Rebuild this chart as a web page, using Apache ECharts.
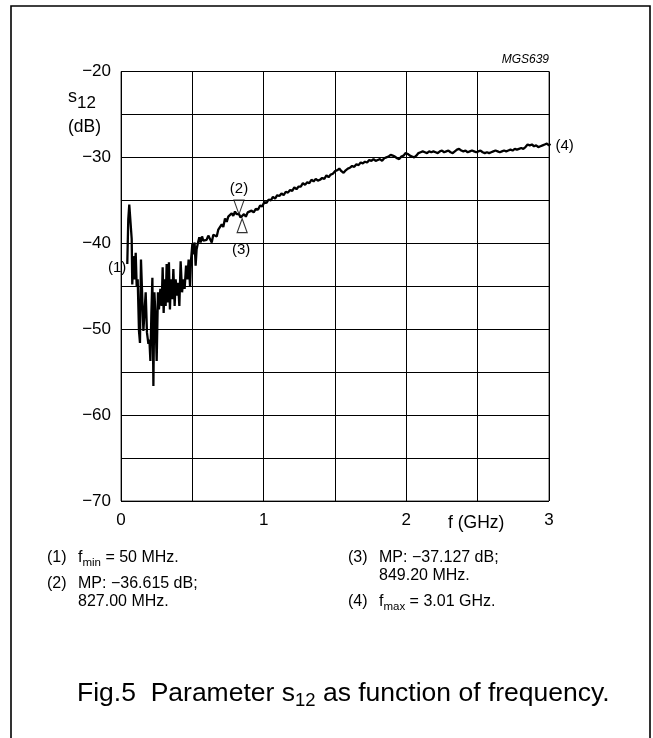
<!DOCTYPE html>
<html>
<head>
<meta charset="utf-8">
<script src="https://cdn.jsdelivr.net/npm/echarts@6/dist/echarts.min.js"></script>
<style>
html,body{margin:0;padding:0;background:#fff;}
#c{width:653px;height:738px;}
</style>
</head>
<body>
<div id="c"></div>
<script>
// ---- data (frequency in GHz, s12 in dB) ----
const freq = [
0.044,0.051,0.058,0.070,0.075,0.079,0.086,0.096,0.103,0.110,0.117,0.126,0.133,0.140,0.147,0.157,0.166,0.173,0.182,0.192,
0.199,0.206,0.213,0.220,0.227,0.234,0.241,0.250,0.259,0.266,0.276,0.285,0.292,0.299,0.306,0.313,0.320,0.329,0.336,0.343,
0.350,0.360,0.367,0.376,0.383,0.393,0.400,0.409,0.418,0.428,0.437,0.446,0.456,0.465,0.474,0.484,0.491,0.500,0.509,0.516,
0.523,0.530,0.540,0.549,0.558,0.568,0.577,0.589,0.600,0.612,0.624,0.636,0.647,0.659,0.671,0.682,0.694,0.706,0.717,0.729,
0.741,0.752,0.764,0.776,0.787,0.799,0.811,0.827,0.838,0.849,0.862,0.875,0.888,0.900,0.915,0.930,0.945,0.960,0.975,0.990,
1.005,1.020,1.035,1.050,1.065,1.080,1.095,1.110,1.125,1.140,1.155,1.170,1.185,1.200,1.215,1.230,1.245,1.260,1.275,1.290,
1.305,1.320,1.335,1.350,1.365,1.380,1.395,1.410,1.425,1.440,1.455,1.470,1.485,1.500,1.515,1.530,1.545,1.560,1.575,1.590,
1.605,1.620,1.635,1.650,1.665,1.680,1.695,1.710,1.725,1.740,1.755,1.770,1.785,1.800,1.815,1.830,1.845,1.860,1.875,1.890,
1.905,1.920,1.935,1.950,1.965,1.980,1.995,2.010,2.025,2.040,2.055,2.070,2.085,2.100,2.115,2.130,2.145,2.160,2.175,2.190,
2.205,2.220,2.235,2.250,2.265,2.280,2.295,2.310,2.325,2.340,2.355,2.370,2.385,2.400,2.415,2.430,2.445,2.460,2.475,2.490,
2.505,2.520,2.535,2.550,2.565,2.580,2.595,2.610,2.625,2.640,2.655,2.670,2.685,2.700,2.715,2.730,2.745,2.760,2.775,2.790,
2.805,2.820,2.835,2.850,2.865,2.880,2.895,2.910,2.925,2.940,2.955,2.970,2.985,3.000,3.010
];
const s12 = [
-42.4,-37.2,-35.5,-35.3,-39.5,-44.8,-41.5,-44.2,-41.1,-45.0,-44.2,-50.2,-51.6,-41.9,-41.7,-50.2,-50.4,-45.7,-50.4,-51.7,
-51.2,-53.7,-48.1,-44.0,-56.6,-45.7,-48.1,-53.7,-45.7,-47.7,-45.3,-47.3,-42.8,-48.1,-44.2,-47.3,-42.4,-46.9,-42.2,-47.7,
-44.2,-46.5,-43.0,-47.3,-44.2,-46.1,-44.6,-47.3,-42.1,-45.7,-44.2,-45.3,-42.6,-44.2,-41.9,-45.0,-41.9,-40.1,-41.3,-39.9,
-42.6,-40.7,-39.9,-39.3,-39.9,-39.2,-39.7,-39.5,-39.6,-39.1,-39.5,-39.9,-39.0,-38.8,-39.2,-38.4,-38.6,-37.8,-38.1,-37.1,
-37.5,-36.9,-37.1,-36.5,-36.8,-36.3,-36.6,-36.6,-37.0,-37.1,-36.6,-36.9,-36.4,-36.6,-36.2,-36.4,-36.0,-36.1,-35.6,-35.7,
-35.2,-35.3,-34.9,-35.0,-34.6,-34.8,-34.4,-34.5,-34.2,-34.4,-34.0,-34.1,-33.8,-33.9,-33.5,-33.7,-33.4,-33.4,-33.0,-33.2,
-32.9,-33.0,-32.6,-32.8,-32.5,-32.7,-32.6,-32.4,-32.5,-32.1,-32.3,-32.0,-31.9,-31.6,-31.5,-31.3,-31.6,-31.8,-31.5,-31.3,
-31.2,-31.0,-31.1,-30.8,-30.9,-30.6,-30.7,-30.5,-30.6,-30.3,-30.4,-30.2,-30.4,-30.3,-30.2,-30.4,-30.1,-30.0,-29.9,-29.7,
-29.8,-29.9,-30.1,-30.2,-29.9,-29.8,-29.5,-29.6,-29.8,-29.9,-30.0,-29.8,-29.5,-29.4,-29.3,-29.4,-29.5,-29.3,-29.4,-29.3,
-29.4,-29.5,-29.3,-29.2,-29.4,-29.3,-29.2,-29.4,-29.5,-29.3,-29.1,-29.0,-29.2,-29.3,-29.2,-29.4,-29.3,-29.2,-29.3,-29.4,
-29.3,-29.2,-29.4,-29.5,-29.4,-29.5,-29.4,-29.3,-29.2,-29.3,-29.4,-29.3,-29.2,-29.3,-29.2,-29.1,-29.2,-29.0,-29.1,-29.0,
-28.9,-29.0,-28.8,-28.5,-28.6,-28.5,-28.7,-28.6,-28.8,-28.7,-28.6,-28.5,-28.4,-28.6,-28.4
];
// marker points: [GHz, dB]
const marker2 = [0.827, -36.615];
const marker3 = [0.8492, -37.127];
const fminPoint = [0.044, -42.4];
const fmaxPoint = [3.010, -28.4];
const xTickLabels = {0:'0', 1:'1', 2:'2', 3:'3'};
const yTickLabels = {'-20':'\u221220','-30':'\u221230','-40':'\u221240','-50':'\u221250','-60':'\u221260','-70':'\u221270'};

const FONT = '"Liberation Sans", Arial, sans-serif';
const chart = echarts.init(document.getElementById('c'), null, {renderer:'canvas'});

const ctx = document.createElement('canvas').getContext('2d');
function txt(x, y, t, size, align, extra) {
  const f = (extra || '') + size + 'px ' + FONT;
  return {type:'text', x: x, y: y, silent:true, z:10,
    style:{text:t, font:f, fill:'#000', align:align||'left', verticalAlign:'middle', textAlign:align||'left', textVerticalAlign:'middle'}};
}
function pieces(x, y, parts, elems) {
  let cx = x;
  parts.forEach(p => {
    const t = p[0], size = p[1], dy = p[2] || 0;
    ctx.font = size + 'px ' + FONT;
    elems.push(txt(cx, y + dy, t, size));
    cx += ctx.measureText(t).width;
  });
}

const lineData = freq.map((f, i) => [f, s12[i]]);

chart.setOption({
  animation:false,
  backgroundColor:'#fff',
  grid:{left:121, top:71.5, width:428, height:429.5, show:true, borderColor:'#444', borderWidth:1, containLabel:false},
  xAxis:{type:'value', min:0, max:3, interval:0.5,
    axisLine:{show:false}, axisTick:{show:false},
    axisLabel:{color:'#000', fontSize:17, fontFamily:FONT, margin:11,
      formatter:v => (xTickLabels[v] !== undefined ? xTickLabels[v] : '')},
    splitLine:{show:true, lineStyle:{color:'#000', width:1}}},
  yAxis:{type:'value', min:-70, max:-20, interval:5,
    axisLine:{show:false}, axisTick:{show:false},
    axisLabel:{color:'#000', fontSize:17, fontFamily:FONT, margin:10,
      formatter:v => (yTickLabels[String(v)] !== undefined ? yTickLabels[String(v)] : '')},
    splitLine:{show:true, lineStyle:{color:'#000', width:1}}},
  series:[
    {type:'line', data:lineData, showSymbol:false, symbol:'none', lineStyle:{color:'#000', width:2.3}, z:3, silent:true},
    {type:'scatter', data:[marker2], symbol:'triangle', symbolRotate:180, symbolSize:[10,14], symbolOffset:[0,-7],
      itemStyle:{color:'#fff', borderColor:'#000', borderWidth:1.2}, z:4, silent:true},
    {type:'scatter', data:[marker3], symbol:'triangle', symbolSize:[10,14], symbolOffset:[0,7],
      itemStyle:{color:'#fff', borderColor:'#000', borderWidth:1.2}, z:4, silent:true}
  ]
});

// annotations anchored to data through the chart's own scales
const g = [];
g.push({type:'rect', shape:{x:11, y:6, width:639, height:760}, style:{fill:'none', stroke:'#000', lineWidth:1.6}, silent:true});
g.push(txt(549, 60, 'MGS639', 12, 'right', 'italic '));
pieces(68, 97, [['s',18,0],['12',17,6]], g);
pieces(68, 127, [['(dB)',17.5,0]], g);
pieces(448, 523, [['f (GHz)',17.5,0]], g);

const p1 = chart.convertToPixel({gridIndex:0}, fminPoint);
const p2 = chart.convertToPixel({gridIndex:0}, marker2);
const p3 = chart.convertToPixel({gridIndex:0}, marker3);
const p4 = chart.convertToPixel({gridIndex:0}, fmaxPoint);
g.push(txt(p1[0] - 1, p1[1] + 4, '(1)', 15, 'right'));
g.push(txt(p2[0], p2[1] - 25, '(2)', 15, 'center'));
g.push(txt(p3[0] - 1, p3[1] + 31, '(3)', 15, 'center'));
g.push(txt(p4[0] + 5, p4[1] + 2, '(4)', 15, 'left'));

const NF = 16, SF = 11.5;
pieces(47, 558, [['(1)',NF]], g);
pieces(78, 558, [['f',NF],['min',SF,5],[' = 50 MHz.',NF]], g);
pieces(47, 584, [['(2)',NF]], g);
pieces(78, 584, [['MP: \u221236.615 dB;',NF]], g);
pieces(78, 602, [['827.00 MHz.',NF]], g);
pieces(348, 558, [['(3)',NF]], g);
pieces(379, 558, [['MP: \u221237.127 dB;',NF]], g);
pieces(379, 576, [['849.20 MHz.',NF]], g);
pieces(348, 602, [['(4)',NF]], g);
pieces(379, 602, [['f',NF],['max',SF,5],[' = 3.01 GHz.',NF]], g);

pieces(77, 694, [['Fig.5  Parameter s',26.5],['12',18.5,7],[' as function of frequency.',26.5]], g);

chart.setOption({graphic:{elements:g}});
</script>
</body>
</html>
